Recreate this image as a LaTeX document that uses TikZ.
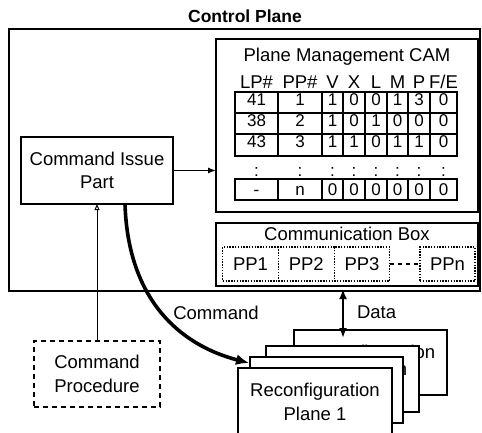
\documentclass[tikz,border=0pt]{standalone}
\usepackage{fontspec}
\setmainfont{Liberation Sans}
\usetikzlibrary{arrows.meta,calc}

\begin{document}
\begin{tikzpicture}[x=1pt,y=-1pt,
  every node/.style={inner sep=0pt,outer sep=0pt},
  box/.style={draw,line width=1.6pt,fill=white},
  dotbox/.style={draw,line width=1.2pt,dash pattern=on 1.4pt off 1.4pt,fill=white,
    minimum height=34pt,font=\fontsize{18.5}{23}\selectfont},
  dashbox/.style={draw,line width=1.3pt,dash pattern=on 5pt off 4pt,fill=white},
  plane/.style={draw,line width=1.6pt,fill=white,minimum width=153pt},
  txt/.style={font=\fontsize{18.5}{23.3}\selectfont,anchor=base},
  celltxt/.style={font=\fontsize{17}{20}\selectfont,anchor=base},
  ttl/.style={font=\fontsize{17.5}{21}\selectfont\bfseries,anchor=base},
  grid/.style={line width=1.3pt},
  thinarrow/.style={line width=1.2pt,-{Latex[length=8pt,width=6pt]}},
  openarrow/.style={line width=1pt,-{Triangle[open,length=6pt,width=5pt]}},
  dataarrow/.style={line width=2.4pt,{Latex[length=10pt,width=8pt]}-{Latex[length=10pt,width=8pt]}},
  cmdarrow/.style={line width=3.6pt,-{Latex[length=13pt,width=11pt]}},
]
\clip (0,0) rectangle (482,433);
\fill[white] (0,0) rectangle (482,433);

% control plane frame and title
\node[box,minimum width=471pt,minimum height=262pt] (cp) at (244.5,160) {};
\node[ttl] (cptitle) at (245,22.7) {Control Plane};

% plane management CAM
\node[box,minimum width=262pt,minimum height=173pt] (cam) at (347,125.5) {};
\node[txt] (camtitle) at (347,61.7) {Plane Management CAM};
\foreach \x/\h in {256.5/LP\#,300/PP\#,332.5/V,354/X,376/L,397.5/M,419/P,443.5/F\slash E}
  \node[txt] at (\x,89) {\h};

% table grid
\draw[grid] (235,92) rectangle (457,156);
\draw[grid] (235,113) -- (457,113);
\draw[grid] (235,134) -- (457,134);
\draw[grid] (235,179) rectangle (457,200);
\foreach \x in {278,322,343,365,387,408,430} {
  \draw[grid] (\x,92) -- (\x,156);
  \draw[grid] (\x,179) -- (\x,200);
}
\foreach \x/\a/\b/\c/\d/\e in {256.5/41/38/43/:/-,300/1/2/3/:/n,332.5/1/1/1/:/0,
    354/0/0/1/:/0,376/0/1/0/:/0,397.5/1/0/1/:/0,419/3/0/1/:/0,443.5/0/0/0/:/0} {
  \node[celltxt] at (\x,106) {\a};
  \node[celltxt] at (\x,127) {\b};
  \node[celltxt] at (\x,148) {\c};
  \node[celltxt] at (\x,176.5) {\d};
  \node[celltxt] at (\x,195) {\e};
}

% command issue part
\node[box,minimum width=152pt,minimum height=67pt,align=center,
  font=\fontsize{18.5}{23.3}\selectfont] (cip) at (97,170.5) {Command Issue\\Part};

% communication box
\node[box,minimum width=262pt,minimum height=63pt] (comm) at (347,254.5) {};
\node[txt] (commtitle) at (347,240) {Communication Box};
\node[dotbox,minimum width=55.6pt] (pp1) at (250.5,264) {PP1};
\node[dotbox,minimum width=56pt] (pp2) at (306.3,264) {PP2};
\node[dotbox,minimum width=55.7pt] (pp3) at (362,264) {PP3};
\node[dotbox,minimum width=55pt] (ppn) at (447.5,264) {PPn};
\draw[line width=1.1pt,dash pattern=on 4pt off 4pt] (pp3) -- (ppn);

% command procedure
\node[dashbox,minimum width=126pt,minimum height=66pt,align=center,
  font=\fontsize{18.5}{23.3}\selectfont] (cproc) at (97,374) {Command\\Procedure};

% stack of reconfiguration planes
\node[plane,minimum height=65pt] (p4) at (370.5,362.5) {};
\node[txt] at (370.5,358) {Reconfiguration};
\node[plane,minimum height=66pt] (p3) at (342.5,379) {};
\node[txt] at (342.5,375) {Reconfiguration};
\node[plane,minimum height=66pt] (p2) at (326.5,390) {};
\node[plane,minimum width=154pt,minimum height=80pt] (p1) at (315,408) {};
\node[txt] (p1a) at (315,396.7) {Reconfiguration};
\node[txt] (p1b) at (315,420) {Plane 1};

% connectors
\draw[thinarrow] (cip.east) -- (cip.east -| cam.west);
\draw[openarrow] (cproc) -- (cip);
\coordinate (dtop) at (343,289);
\coordinate (dbot) at (343,338);
\draw[dataarrow] (dtop) -- (dbot);
\coordinate (cend) at ($(p2.north west)+(-1,6)$);
\draw[cmdarrow] ($(cip.south)+(28,0)$) .. controls (128,300) and (180,345) .. (cend);

% connector labels
\node[txt,anchor=base west] (cmdlbl) at (173.3,319) {Command};
\node[txt,anchor=base west] (datalbl) at (357,318) {Data};
\end{tikzpicture}
\end{document}
